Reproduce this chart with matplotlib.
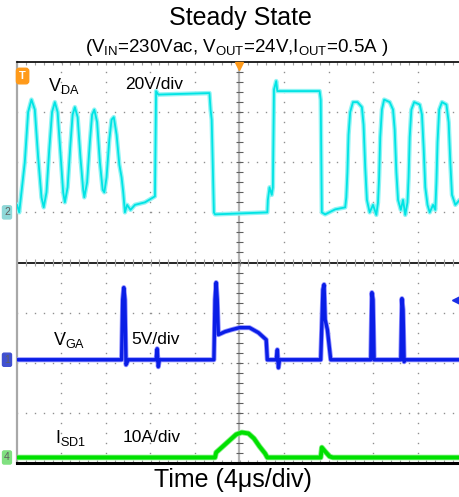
import numpy as np
import matplotlib
matplotlib.use("Agg")
import matplotlib.pyplot as plt

plt.rcParams['font.family'] = ['Liberation Sans', 'DejaVu Sans']
plt.rcParams['mathtext.fontset'] = 'custom'
plt.rcParams['mathtext.rm'] = 'Liberation Sans'
plt.rcParams['mathtext.it'] = 'Liberation Sans'

# time in us (4us/div, trigger at 0)
t_da = [-20.0, -19.8, -19.6, -19.3, -19.0, -18.7, -18.4, -18.1, -17.8, -17.6,
        -17.35, -17.1, -16.85, -16.6, -16.35, -16.1, -15.85, -15.7,
        -15.45, -15.2, -15.0, -14.8, -14.55, -14.3, -14.05, -13.95,
        -13.7, -13.45, -13.25, -13.05, -12.8, -12.55, -12.3, -12.15,
        -11.95, -11.7, -11.5, -11.3, -11.05, -10.8, -10.6, -10.45, -10.3,
        -10.1, -9.8, -9.4, -8.5, -7.6, -7.5, -7.3,
        -2.7, -2.6, -2.5, -2.3, -2.2, 2.5, 2.55, 2.7, 2.9, 3.0, 3.1, 3.3, 3.4, 7.2,
        7.3, 7.4, 7.7, 8.6, 9.5, 9.6, 9.7, 9.8, 9.95, 10.2, 10.6, 11.0, 11.15, 11.3,
        11.45, 11.7, 12.0, 12.3, 12.45, 12.55, 12.65, 12.8, 13.0, 13.5, 13.8, 13.95,
        14.1, 14.25, 14.5, 14.7, 14.9, 15.1, 15.2, 15.3, 15.45, 15.7, 16.2, 16.4,
        16.55, 16.7, 16.9, 17.1, 17.4, 17.6, 17.7, 17.8, 17.95, 18.2, 18.6, 18.8,
        18.95, 19.1, 19.4, 19.8, 20.0]
v_da = [3, 0, 8, 20, 40, 45, 41, 22, 6, 2,
        8, 25, 40, 44, 40, 24, 8, 4,
        10, 27, 39, 42, 38, 22, 9, 6,
        12, 28, 39, 41, 36, 20, 9, 8,
        14, 29, 37, 38, 31, 19, 14, 8, 0,
        3, 1, 3, 4, 6.4, 48.4, 47,
        47.6, 41, 37, 0, -0.8, 0, 5, 10, 7, 10, 49, 52.4, 48.4, 48.4,
        45, 0, -0.8, 1.2, 2, 6, 16, 31, 40, 44, 44, 42, 35, 18,
        5, 0, 3, -1, 4, 14, 30, 41, 45, 44, 41, 33,
        16, 5, 1, 5, -1, 4, 14, 30, 41, 44, 43, 39,
        26, 10, 3, 0, 3, 1, 12, 28, 41, 44, 43, 36,
        20, 7, 3, 5, 4]

t_ga = [-20.0, -10.6, -10.5, -10.4, -10.3, -10.2, -10.0, -7.5, -7.4, -7.3, -7.2,
        -2.3, -2.2, -2.1, -2.0, -1.9, -1.3, -0.7, 0.0, 0.9, 1.7, 2.1, 2.4, 2.5,
        3.3, 3.4, 3.5, 3.6, 7.3, 7.5, 7.6, 7.7, 7.9, 8.0, 8.2, 11.8, 11.9, 12.0,
        12.1, 14.5, 14.6, 14.7, 14.8, 14.85, 20.0]
v_ga = [0, 0, 6, 7.2, 6, -0.5, 0, 0, 1.1, -0.7, 0,
        0, 6, 7.7, 6, 2.5, 2.8, 3.0, 3.2, 3.2, 2.7, 2.3, 2.0, 0,
        0, 1.0, -0.8, 0, 0, 7.0, 7.5, 4.0, 3.0, 2.0, 0, 0, 6.7, 6.0,
        0, 0, 6.1, 5.0, -0.2, 0, 0]

t_sd = [-20.0, -2.2, -2.1, -1.6, -0.9, -0.3, 0.2, 0.8, 1.3, 1.8, 2.3, 2.5,
        7.3, 7.4, 7.7, 8.1, 8.4, 20.0]
i_sd = [0, 0, 1.0, 2.0, 3.4, 4.6, 5.0, 4.8, 3.8, 2.2, 0.8, 0,
        0, 2.0, 1.2, 0.2, 0, 0]

# channel ground positions (div) and scales (units/div)
off_da, scale_da = 5.0, 20.0
off_ga, scale_ga = 2.06, 5.0
off_sd, scale_sd = 0.11, 10.0

fig = plt.figure(figsize=(4.6, 4.97), dpi=100)
ax = fig.add_axes([17/460, 34/497, 445/460, 401/497])
ax.set_xlim(-20, 20)
ax.set_ylim(0, 8)
ax.set_xticks([])
ax.set_yticks([])
ax.spines['right'].set_visible(False)
ax.spines['left'].set_color('#a8a8a8')
ax.spines['left'].set_linewidth(1.6)
ax.spines['top'].set_color('black')
ax.spines['top'].set_linewidth(1.2)
ax.spines['bottom'].set_color('black')
ax.spines['bottom'].set_linewidth(2.2)

# dotted graticule
gc = '#909090'
for gx in np.arange(-16, 17, 4):
    if gx == 0:
        continue
    ys = np.arange(0, 8.01, 0.2)
    ax.plot(np.full_like(ys, gx), ys, ls='none', marker='s', ms=1.0, mec='none', mfc=gc)
for gy in range(1, 8):
    if gy == 4:
        continue
    xs = np.arange(-20, 20.01, 0.8)
    ax.plot(xs, np.full_like(xs, gy), ls='none', marker='s', ms=1.0, mec='none', mfc=gc)

# center lines with small ticks
ax.axvline(0, color='#b4b4b4', lw=1.6, zorder=1)
ax.axhline(4, color='black', lw=1.2, zorder=1)
xs = np.arange(-20, 20.01, 0.8)
ax.vlines(xs, 4 - 0.07, 4 + 0.07, color='#a0a0a0', lw=0.8)
ax.vlines(xs, 8 - 0.06, 8, color='#a0a0a0', lw=0.8)
ax.vlines(xs, 0, 0.06, color='#a0a0a0', lw=0.8)
ys = np.arange(0, 8.01, 0.2)
ax.hlines(ys, -0.3, 0.3, color='#606060', lw=0.8)

# traces
ya = off_da + np.array(v_da) / scale_da
yg = off_ga + np.array(v_ga) / scale_ga
ys_ = off_sd + np.array(i_sd) / scale_sd
ax.plot(t_da, ya, color='#90f4f4', lw=3.2, zorder=3)
ax.plot(t_da, ya, color='#00e4e4', lw=1.3, zorder=4)
ax.plot(t_ga, yg, color='#9090ff', lw=3.6, zorder=3)
ax.plot(t_ga, yg, color='#0a1ee6', lw=2.4, zorder=4)
ax.plot(t_sd, ys_, color='#80f080', lw=4.0, zorder=3)
ax.plot(t_sd, ys_, color='#00e000', lw=2.8, zorder=4)

# labels
ax.text(-17.2, 7.52, r'V$_{\rm DA}$', fontsize=13, va='center', ha='left')
ax.text(-10.3, 7.55, '20V/div', fontsize=12.5, va='center', ha='left')
ax.text(-16.8, 2.46, r'V$_{\rm GA}$', fontsize=13, va='center', ha='left')
ax.text(-9.7, 2.46, '5V/div', fontsize=12.5, va='center', ha='left')
ax.text(-16.6, 0.5, r'I$_{\rm SD1}$', fontsize=13, va='center', ha='left')
ax.text(-10.5, 0.5, '10A/div', fontsize=12.5, va='center', ha='left')

# scope markers
ax.text(-19.5, 7.72, 'T', fontsize=8, color='white', fontweight='bold', ha='center',
        va='center', bbox=dict(boxstyle='round,pad=0.25', fc='#ff9a1a', ec='#ff9a1a'),
        zorder=6)
ax.plot([0], [7.93], marker='v', ms=6, color='#ff9a1a', clip_on=False, zorder=6)
ax.plot([19.5], [3.26], marker='<', ms=6, color='#1a2ee6', clip_on=False, zorder=6)
mk = [('2', off_da, '#8fd8d8'), ('1', off_ga, '#4050d0'), ('4', off_sd, '#80e080')]
for lab, yy, c in mk:
    ax.text(-20.9, yy, lab, fontsize=7.5, color='#606060', ha='center', va='center',
            bbox=dict(boxstyle='round,pad=0.15', fc=c, ec=c), clip_on=False, zorder=6)

fig.text(240/460, 1 - 18/497, 'Steady State', fontsize=18, ha='center', va='center')
fig.text(237/460, 1 - 47/497,
         r'(V$_{\rm IN}$=230Vac, V$_{\rm OUT}$=24V,I$_{\rm OUT}$=0.5A )',
         fontsize=13.5, ha='center', va='center')
fig.text(233/460, 1 - 480/497, 'Time (4\u03bcs/div)', fontsize=18, ha='center', va='center')

fig.savefig('out.png', dpi=100)
